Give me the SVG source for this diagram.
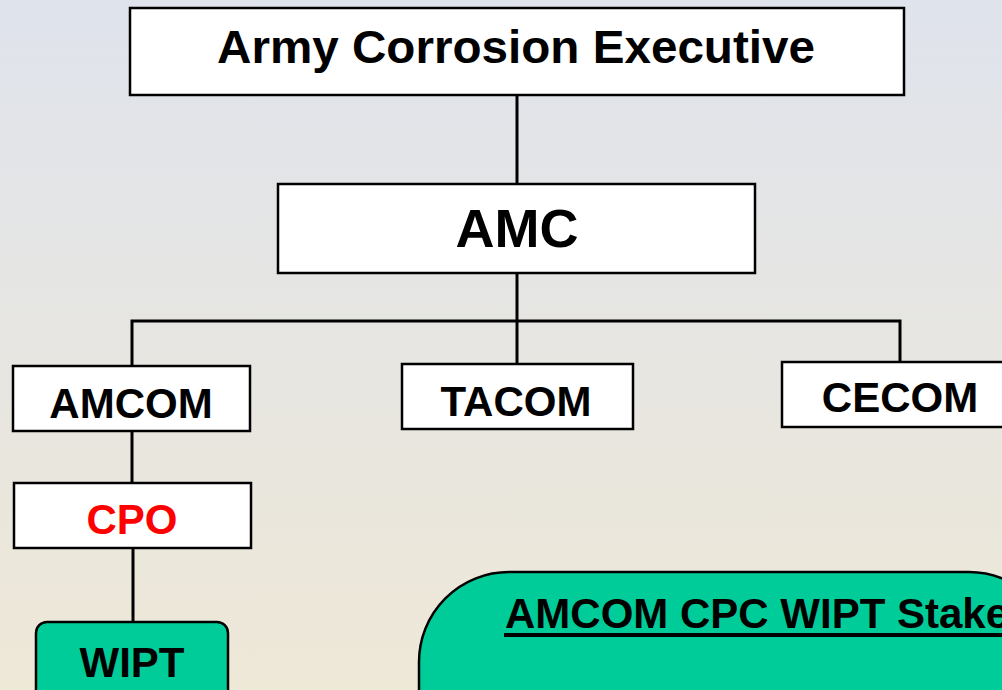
<svg xmlns="http://www.w3.org/2000/svg" width="1002" height="690" viewBox="0 0 1002 690">
<defs>
<linearGradient id="bg" x1="0" y1="0" x2="0" y2="1">
<stop offset="0" stop-color="#dfe3ec"/>
<stop offset="1" stop-color="#eee8d7"/>
</linearGradient>
<style>
.box{fill:#fff;stroke:#000;stroke-width:2.5}
.green{fill:#00cc99;stroke:#000;stroke-width:2.5}
.lbl{font-family:"Liberation Sans",Arial,sans-serif;font-weight:bold;text-anchor:middle;fill:#000}
.conn{fill:none;stroke:#000;stroke-width:3}
</style>
</defs>
<rect width="1002" height="690" fill="url(#bg)"/>
<g id="connectors">
<path class="conn" d="M517 95V184"/>
<path class="conn" d="M517 273V321"/>
<path class="conn" d="M132 366V321H900V362"/>
<path class="conn" d="M517 321V364"/>
<path class="conn" d="M132 431V483"/>
<path class="conn" d="M133 548V622"/>
</g>
<g id="ace">
<rect class="box" x="130" y="8" width="774" height="87"/>
<text class="lbl" x="516" y="63" font-size="46" textLength="598" lengthAdjust="spacingAndGlyphs">Army Corrosion Executive</text>
</g>
<g id="amc">
<rect class="box" x="278" y="184" width="477" height="89"/>
<text class="lbl" x="517" y="247" font-size="54">AMC</text>
</g>
<g id="amcom">
<rect class="box" x="13" y="366" width="237" height="65"/>
<text class="lbl" x="131" y="418" font-size="42">AMCOM</text>
</g>
<g id="tacom">
<rect class="box" x="402" y="364" width="231" height="65"/>
<text class="lbl" x="516" y="416" font-size="42">TACOM</text>
</g>
<g id="cecom">
<rect class="box" x="782" y="362" width="240" height="65"/>
<text class="lbl" x="900" y="412" font-size="42">CECOM</text>
</g>
<g id="cpo">
<rect class="box" x="14" y="483" width="237" height="65"/>
<text class="lbl" x="132" y="534" font-size="42" fill="#ff0000" style="fill:#ff0000">CPO</text>
</g>
<g id="wipt">
<rect class="green" x="36" y="622" width="192" height="90" rx="11"/>
<text class="lbl" x="132" y="677" font-size="42">WIPT</text>
</g>
<g id="stakeholders">
<rect class="green" x="419" y="572" width="640" height="300" rx="90"/>
<text class="lbl" x="505" y="628" font-size="42" style="text-anchor:start">AMCOM CPC WIPT Stake</text>
<rect x="504" y="633" width="510" height="4" fill="#000"/>
</g>
</svg>
